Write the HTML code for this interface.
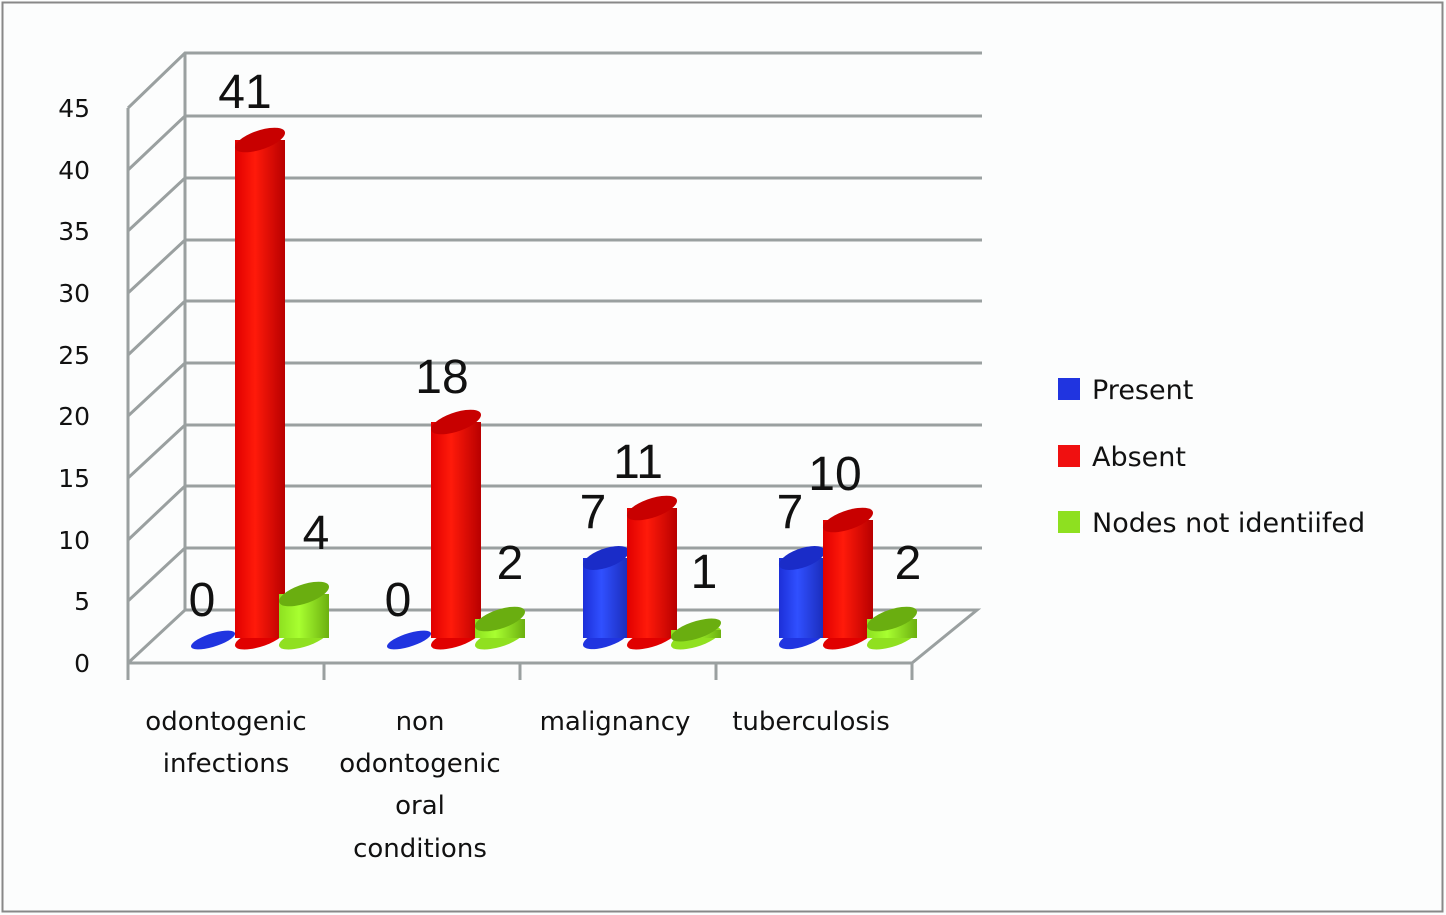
<!DOCTYPE html>
<html><head><style>body{margin:0;background:#fff}svg{display:block}</style></head>
<body>
<svg width="1446" height="915" xmlns="http://www.w3.org/2000/svg" font-family="Liberation Sans, sans-serif">
<defs>
<linearGradient id="gb" x1="0" x2="1"><stop offset="0" stop-color="#1c2fd8"/><stop offset="0.4" stop-color="#3050ff"/><stop offset="1" stop-color="#1a2bb8"/></linearGradient>
<linearGradient id="gr" x1="0" x2="1"><stop offset="0" stop-color="#e00000"/><stop offset="0.4" stop-color="#ff1a0a"/><stop offset="1" stop-color="#b80000"/></linearGradient>
<linearGradient id="gg" x1="0" x2="1"><stop offset="0" stop-color="#8ee020"/><stop offset="0.4" stop-color="#a8ff30"/><stop offset="1" stop-color="#6cb010"/></linearGradient>
</defs>
<rect x="0" y="0" width="1446" height="915" fill="#fcfdfd"/>
<rect x="2.5" y="2.5" width="1440" height="909" fill="none" stroke="#888" stroke-width="2"/>
<g stroke="#9aa0a0" stroke-width="3" fill="none">
<line x1="128" y1="108" x2="128" y2="663"/>
<line x1="185" y1="53" x2="185" y2="610"/>
<polyline points="128,663 912,663 977,610 185,610 128,663"/>
<path d="M128,601 L185,548 H982"/><path d="M128,540 L185,486 H982"/><path d="M128,478 L185,425 H982"/>
<path d="M128,416 L185,363 H982"/><path d="M128,355 L185,301 H982"/><path d="M128,293 L185,240 H982"/>
<path d="M128,231 L185,178 H982"/><path d="M128,170 L185,116 H982"/><path d="M128,108 L185,53 H982"/>
<line x1="128" y1="663" x2="128" y2="680"/><line x1="324" y1="663" x2="324" y2="680"/>
<line x1="520" y1="663" x2="520" y2="680"/><line x1="716" y1="663" x2="716" y2="680"/><line x1="912" y1="663" x2="912" y2="680"/>
</g>
<g font-size="25" fill="#111" text-anchor="end" font-family="DejaVu Sans, sans-serif">
<text x="90" y="672">0</text><text x="90" y="610">5</text><text x="90" y="549">10</text><text x="90" y="487">15</text>
<text x="90" y="425">20</text><text x="90" y="364">25</text><text x="90" y="302">30</text><text x="90" y="240">35</text>
<text x="90" y="179">40</text><text x="90" y="117">45</text>
</g>
<g>
<!-- group 1 -->
<ellipse rx="22" ry="7" transform="translate(213,640) skewY(-16)" fill="#2034e0"/>
<ellipse rx="25" ry="9" transform="translate(260,638) skewY(-16)" fill="#e00000"/><rect x="235" y="140" width="50" height="498" fill="url(#gr)"/><ellipse rx="25" ry="10" transform="translate(260,140) skewY(-16)" fill="#c80000"/>
<ellipse rx="25" ry="9" transform="translate(304,638) skewY(-16)" fill="#90e020"/><rect x="279" y="594" width="50" height="44" fill="url(#gg)"/><ellipse rx="25" ry="10" transform="translate(304,594) skewY(-16)" fill="#6aae10"/>
<!-- group 2 -->
<ellipse rx="22" ry="7" transform="translate(409,640) skewY(-16)" fill="#2034e0"/>
<ellipse rx="25" ry="9" transform="translate(456,638) skewY(-16)" fill="#e00000"/><rect x="431" y="422" width="50" height="216" fill="url(#gr)"/><ellipse rx="25" ry="10" transform="translate(456,422) skewY(-16)" fill="#c80000"/>
<ellipse rx="25" ry="9" transform="translate(500,638) skewY(-16)" fill="#90e020"/><rect x="475" y="619" width="50" height="19" fill="url(#gg)"/><ellipse rx="25" ry="10" transform="translate(500,619) skewY(-16)" fill="#6aae10"/>
<!-- group 3 -->
<ellipse rx="23" ry="9" transform="translate(606,638) skewY(-16)" fill="#2034e0"/><rect x="583" y="558" width="46" height="80" fill="url(#gb)"/><ellipse rx="23" ry="10" transform="translate(606,558) skewY(-16)" fill="#1a2cc8"/>
<ellipse rx="25" ry="9" transform="translate(652,638) skewY(-16)" fill="#e00000"/><rect x="627" y="508" width="50" height="130" fill="url(#gr)"/><ellipse rx="25" ry="10" transform="translate(652,508) skewY(-16)" fill="#c80000"/>
<ellipse rx="25" ry="9" transform="translate(696,638) skewY(-16)" fill="#90e020"/><rect x="671" y="630" width="50" height="8" fill="url(#gg)"/><ellipse rx="25" ry="9" transform="translate(696,630) skewY(-16)" fill="#6aae10"/>
<!-- group 4 -->
<ellipse rx="23" ry="9" transform="translate(802,638) skewY(-16)" fill="#2034e0"/><rect x="779" y="558" width="46" height="80" fill="url(#gb)"/><ellipse rx="23" ry="10" transform="translate(802,558) skewY(-16)" fill="#1a2cc8"/>
<ellipse rx="25" ry="9" transform="translate(848,638) skewY(-16)" fill="#e00000"/><rect x="823" y="520" width="50" height="118" fill="url(#gr)"/><ellipse rx="25" ry="10" transform="translate(848,520) skewY(-16)" fill="#c80000"/>
<ellipse rx="25" ry="9" transform="translate(892,638) skewY(-16)" fill="#90e020"/><rect x="867" y="619" width="50" height="19" fill="url(#gg)"/><ellipse rx="25" ry="10" transform="translate(892,619) skewY(-16)" fill="#6aae10"/>
</g>
<g font-size="48" fill="#111" text-anchor="middle">
<text x="245" y="108">41</text><text x="202" y="616">0</text><text x="316" y="549">4</text>
<text x="442" y="393">18</text><text x="398" y="616">0</text><text x="510" y="579">2</text>
<text x="593" y="528">7</text><text x="638" y="478">11</text><text x="704" y="588">1</text>
<text x="790" y="528">7</text><text x="835" y="490">10</text><text x="908" y="579">2</text>
</g>
<g font-size="26" fill="#111" text-anchor="middle" font-family="DejaVu Sans, sans-serif">
<text x="226" y="730">odontogenic</text><text x="226" y="772">infections</text>
<text x="420" y="730">non</text><text x="420" y="772">odontogenic</text><text x="420" y="814">oral</text><text x="420" y="857">conditions</text>
<text x="615" y="730">malignancy</text><text x="811" y="730">tuberculosis</text>
</g>
<rect x="1058" y="378" width="22" height="22" fill="#2034e0"/>
<rect x="1058" y="445" width="22" height="22" fill="#f01010"/>
<rect x="1058" y="511" width="22" height="22" fill="#8ee020"/>
<g font-size="27" fill="#111" font-family="DejaVu Sans, sans-serif">
<text x="1092" y="399">Present</text><text x="1092" y="466">Absent</text><text x="1092" y="532">Nodes not identiifed</text>
</g>
</svg>
</body></html>
